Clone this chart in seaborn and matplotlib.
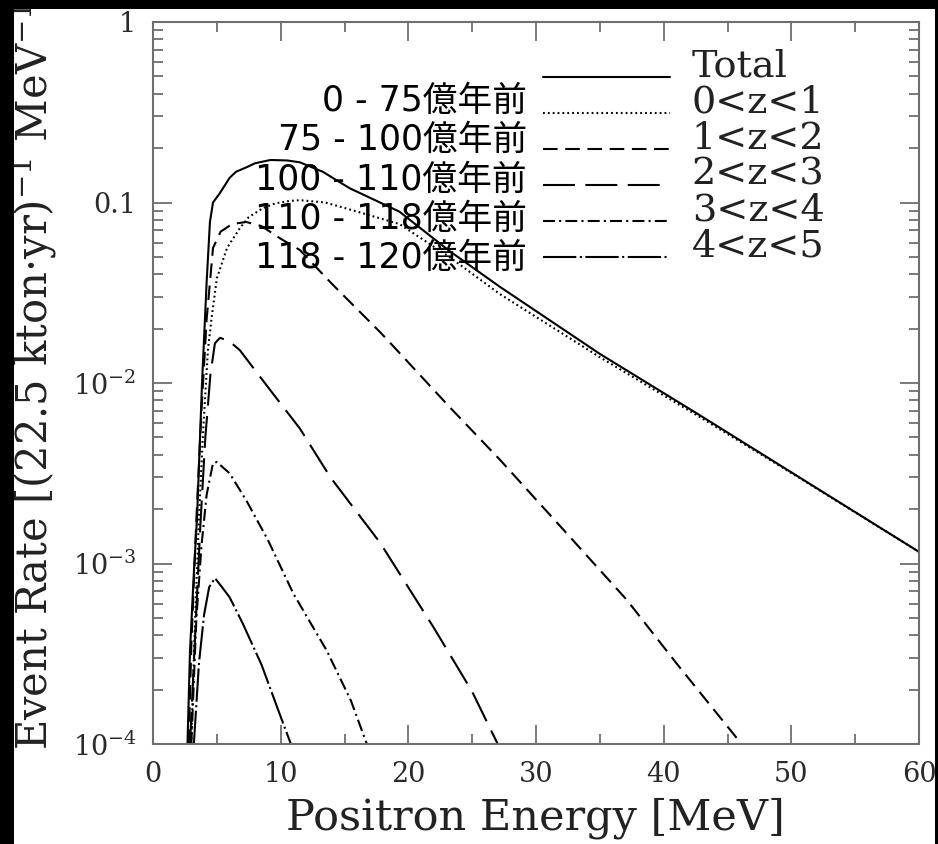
import matplotlib
matplotlib.use("Agg")
import matplotlib.pyplot as plt
import seaborn as sns
import numpy as np
from matplotlib.patches import Rectangle
from matplotlib.ticker import LogLocator, NullFormatter
from matplotlib.legend_handler import HandlerLine2D

# ---------------- data ----------------
series_names = ["Total", "0<z<1", "1<z<2", "2<z<3", "3<z<4", "4<z<5"]
jp_labels = ["0 - 75億年前", "75 - 100億年前", "100 - 110億年前",
             "110 - 118億年前", "118 - 120億年前"]

energy_total = [2.7, 2.9, 3.2, 3.45, 3.84, 4.2, 4.46, 4.7, 5.25, 6.0, 6.5,
                7.35, 8.0, 9.2, 10.5, 11.5, 13.3, 15.4, 19.3, 23.2, 27.2,
                35.0, 42.8, 50.7, 60.0]
rate_total = [1.0e-4, 3.3e-4, 8.9e-4, 1.8e-3, 1.0e-2, 3.6e-2, 7.8e-2, 0.100,
              0.113, 0.137, 0.148, 0.157, 0.165, 0.172, 0.171, 0.167, 0.148,
              0.120, 0.089, 0.054, 0.034, 0.0145, 6.65e-3, 2.98e-3, 1.16e-3]

energy_z01 = [3.0, 3.3, 3.6, 3.9, 4.3, 4.6, 5.0, 5.8, 6.8, 7.5, 8.6, 9.6,
              10.7, 11.5, 13.5, 16.0, 19.3, 23.2, 27.2, 35.0, 42.8, 50.7, 60.0]
rate_z01 = [1.0e-4, 5.0e-4, 1.78e-3, 5.0e-3, 0.0152, 0.0232, 0.038, 0.056,
            0.072, 0.083, 0.093, 0.099, 0.102, 0.103, 0.100, 0.089, 0.076,
            0.050, 0.031, 0.0139, 6.5e-3, 2.96e-3, 1.16e-3]

energy_z12 = [2.8, 3.0, 3.4, 3.8, 4.2, 4.7, 5.3, 6.2, 7.3, 8.5, 10.0, 11.5,
              14.0, 17.8, 19.3, 23.2, 27.2, 32.0, 37.1, 41.0, 45.2, 46.1]
rate_z12 = [1.0e-4, 3.5e-4, 1.78e-3, 7.1e-3, 0.0224, 0.056, 0.069, 0.076,
            0.078, 0.074, 0.063, 0.0546, 0.0355, 0.0191, 0.0147, 7.4e-3,
            3.74e-3, 1.58e-3, 6.3e-4, 2.8e-4, 1.2e-4, 1.0e-4]

energy_z23 = [2.9, 3.3, 3.7, 4.1, 4.5, 4.85, 5.25, 6.0, 6.8, 9.2, 11.5, 13.9,
              17.8, 22.0, 25.0, 27.0]
rate_z23 = [1.0e-4, 4.0e-4, 1.58e-3, 5.0e-3, 0.0112, 0.0166, 0.0178, 0.0170,
            0.0152, 9.1e-3, 5.6e-3, 3.0e-3, 1.3e-3, 4.4e-4, 1.95e-4, 1.0e-4]

energy_z34 = [3.0, 3.4, 3.8, 4.2, 4.7, 5.0, 6.0, 7.3, 9.0, 11.0, 13.6, 15.5,
              16.75]
rate_z34 = [1.0e-4, 5.0e-4, 1.26e-3, 2.4e-3, 3.6e-3, 3.65e-3, 3.16e-3,
            2.24e-3, 1.35e-3, 6.8e-4, 3.3e-4, 1.74e-4, 1.0e-4]

energy_z45 = [3.2, 3.6, 4.0, 4.4, 4.85, 5.4, 6.0, 7.0, 8.5, 9.9, 10.8]
rate_z45 = [1.0e-4, 2.8e-4, 5.2e-4, 7.4e-4, 8.3e-4, 7.4e-4, 6.5e-4, 4.7e-4,
            2.75e-4, 1.48e-4, 1.0e-4]

x_ticks = [0, 10, 20, 30, 40, 50, 60]
x_minor = [5, 15, 25, 35, 45, 55]
y_ticks = [1e-4, 1e-3, 1e-2, 0.1, 1]
y_tick_labels = [r"$10^{-4}$", r"$10^{-3}$", r"$10^{-2}$", "0.1", "1"]

# ---------------- style ----------------
sns.set_style("ticks")
plt.rcParams["font.family"] = ["DejaVu Serif", "DejaVu Sans"]
plt.rcParams["mathtext.fontset"] = "dejavuserif"
plt.rcParams["lines.scale_dashes"] = False

line_styles = ["-", (0, (1.3, 2.2)), (0, (10.5, 5.5)), (0, (23, 7.5)),
               (0, (8.6, 3, 1.5, 3)), (0, (24, 2.5, 1.5, 2.5))]

fig = plt.figure(figsize=(9.38, 8.44), dpi=100)
fig.patch.set_facecolor("white")
ax = fig.add_axes([153 / 938, 1 - 744 / 844, 766 / 938, 722 / 844])

all_x = [energy_total, energy_z01, energy_z12, energy_z23, energy_z34, energy_z45]
all_y = [rate_total, rate_z01, rate_z12, rate_z23, rate_z34, rate_z45]

for xs, ys, ls in zip(all_x, all_y, line_styles):
    sns.lineplot(x=xs, y=ys, ax=ax, color="black", linewidth=1.5,
                 linestyle=ls, errorbar=None, estimator=None, legend=False)

ax.set_yscale("log")
ax.set_xlim(0, 60)
ax.set_ylim(1e-4, 1)

ax.set_xticks(x_ticks)
ax.set_xticklabels([str(t) for t in x_ticks])
ax.set_xticks(x_minor, minor=True)
ax.set_yticks(y_ticks)
ax.set_yticklabels(y_tick_labels)
ax.yaxis.set_minor_locator(LogLocator(base=10, subs=np.arange(2, 10)))
ax.yaxis.set_minor_formatter(NullFormatter())

spine_color = "#6e6e6e"
for sp in ax.spines.values():
    sp.set_visible(True)
    sp.set_color(spine_color)
    sp.set_linewidth(1.5)

ax.tick_params(which="both", direction="in", top=True, right=True,
               color=spine_color, width=1.3, labelcolor="#2a2a2a")
ax.tick_params(which="major", length=13.5, labelsize=19.5, pad=12)
ax.tick_params(which="minor", length=7)

ax.set_xlabel("Positron Energy [MeV]", fontsize=31, color="#222222")
ax.set_ylabel(r"Event Rate [(22.5 kton·yr)$^{-1}$ MeV$^{-1}$]", fontsize=30,
              color="#222222")
ax.xaxis.set_label_coords(0.499, -0.073)
ax.yaxis.set_label_coords(-0.123, 0.522)


# legend: sample lines sit on the text baseline, as in the reference
class BaselineLineHandler(HandlerLine2D):
    def create_artists(self, legend, orig_handle, xdescent, ydescent,
                       width, height, fontsize, trans):
        artists = super().create_artists(legend, orig_handle, xdescent,
                                         ydescent, width, height, fontsize,
                                         trans)
        for a in artists:
            a.set_ydata(np.asarray(a.get_ydata()) - 0.36 * fontsize)
        return artists


leg_fs = 27.5
handles = ax.get_lines()[:len(series_names)]
leg = ax.legend(handles, series_names, loc="upper left",
                bbox_to_anchor=(0.509, 0.963), frameon=False, fontsize=leg_fs,
                handlelength=3.32, handletextpad=0.58, labelspacing=0.0,
                borderpad=0, borderaxespad=0,
                handler_map={h: BaselineLineHandler() for h in handles})
for t in leg.get_texts():
    t.set_color("#222222")

# Japanese annotations
jp_y0 = 0.8906
jp_step = 0.0545
for i, lab in enumerate(jp_labels):
    ax.text(0.488, jp_y0 - i * jp_step, lab, transform=ax.transAxes,
            ha="right", va="center", fontsize=25,
            family=["DejaVu Sans", "Noto Sans CJK JP"], color="black",
            zorder=5)

# black border strips of the cropped original
for (x0, y0, w, h) in [(0, 0, 14 / 938, 1), (0, 1 - 9 / 844, 1, 9 / 844),
                       (935 / 938, 0, 3 / 938, 1)]:
    fig.add_artist(Rectangle((x0, y0), w, h, transform=fig.transFigure,
                             facecolor="black", edgecolor="none", zorder=10))

fig.savefig("out.png", dpi=100, facecolor=fig.get_facecolor())
